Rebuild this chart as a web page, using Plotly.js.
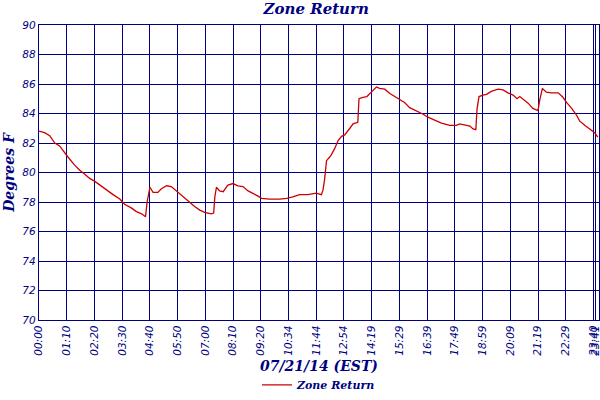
<!DOCTYPE html>
<html>
<head>
<meta charset="utf-8">
<script src="https://cdn.plot.ly/plotly-3.0.1.min.js"></script>
<style>
  html, body { margin: 0; padding: 0; background: #fff; }
  #graph { width: 600px; height: 400px; }
</style>
</head>
<body>
<div id="graph"></div>
<script>
// sample index along the log (one reading per step, with gaps in the clock)
var sampleIdx = [
    0, 14, 27, 40, 52, 65, 73, 90, 103, 115, 128, 141, 158, 170, 187, 204, 216, 233, 246, 259,
    269, 273, 278, 280, 288, 300, 309, 322, 334, 347, 360, 368, 381, 393, 406, 418, 435, 441, 444, 448,
    456, 465, 477, 490, 502, 515, 528, 540, 553, 562, 582, 608, 625, 641, 658, 679, 700, 713, 717, 721,
    726, 734, 738, 747, 755, 764, 772, 785, 793, 805, 808, 818, 828, 839, 852, 860, 873, 886, 898, 911,
    923, 936, 953, 970, 982, 999, 1016, 1037, 1054, 1062, 1079, 1088, 1096, 1103, 1106, 1111, 1121, 1130, 1142, 1159,
    1172, 1184, 1197, 1207, 1214, 1222, 1235, 1247, 1260, 1264, 1271, 1281, 1294, 1311, 1323, 1332, 1345, 1357, 1365, 1378,
    1391, 1403, 1411
];

var zoneReturn = [
    82.8, 82.7, 82.5, 82.0, 81.8, 81.3, 81.05, 80.5, 80.15, 79.9, 79.6, 79.4, 79.05, 78.85, 78.5, 78.2, 77.85, 77.6, 77.35, 77.2,
    77.0, 78.0, 78.9, 79.0, 78.65, 78.65, 78.9, 79.1, 79.05, 78.75, 78.45, 78.25, 78.0, 77.7, 77.45, 77.3, 77.2, 77.25, 78.35, 79.0,
    78.75, 78.7, 79.15, 79.25, 79.1, 79.05, 78.75, 78.6, 78.4, 78.25, 78.2, 78.2, 78.25, 78.35, 78.5, 78.5, 78.6, 78.5, 78.8, 79.5,
    80.8, 81.05, 81.2, 81.65, 82.15, 82.45, 82.55, 83.0, 83.3, 83.4, 85.0, 85.1, 85.15, 85.45, 85.8, 85.7, 85.65, 85.35, 85.15, 84.9,
    84.75, 84.4, 84.2, 83.95, 83.75, 83.55, 83.35, 83.2, 83.2, 83.3, 83.2, 83.15, 82.95, 82.9, 84.3, 85.15, 85.25, 85.3, 85.5, 85.65,
    85.6, 85.4, 85.25, 85.0, 85.15, 85.0, 84.7, 84.35, 84.2, 84.85, 85.7, 85.45, 85.4, 85.4, 85.1, 84.75, 84.35, 83.9, 83.5, 83.2,
    82.95, 82.7, 82.4
];

var tickIdx = [0, 70, 140, 210, 280, 350, 420, 490, 560, 630, 700, 770, 840, 910, 980, 1050, 1120, 1190, 1260, 1330, 1400, 1406];
var tickText = ['00:00', '01:10', '02:20', '03:30', '04:40', '05:50', '07:00', '08:10', '09:20', '10:34', '11:44',
    '12:54', '14:19', '15:29', '16:39', '17:49', '18:59', '20:09', '21:19', '22:29', '23:40', '23:41'];

var navy = '#000080';

function draw() {
    const trace = {
        x: sampleIdx,
        y: zoneReturn,
        type: 'scatter',
        mode: 'lines',
        name: 'Zone Return',
        line: { color: '#cc0000', width: 1.3 }
    };

    const tickFont = { family: 'DejaVu Sans', size: 10.5, color: navy, style: 'italic' };
    const titleFont = { family: 'DejaVu Serif', size: 14, color: navy, style: 'italic', weight: 'bold' };

    const layout = {
        width: 600,
        height: 400,
        margin: { l: 39, r: 1, t: 25, b: 76 },
        paper_bgcolor: '#ffffff',
        plot_bgcolor: '#ffffff',
        title: {
            text: 'Zone Return',
            font: { family: 'DejaVu Serif', size: 15, color: navy, style: 'italic', weight: 'bold' },
            x: 0.527, xanchor: 'center',
            y: 0.978, yanchor: 'middle'
        },
        xaxis: {
            range: [0, 1414],
            tickmode: 'array',
            tickvals: tickIdx,
            ticktext: tickText,
            tickangle: -90,
            tickfont: tickFont,
            ticklabeloverflow: 'allow',
            ticks: '',
            showgrid: true,
            gridcolor: navy,
            gridwidth: 1,
            showline: true,
            linecolor: navy,
            linewidth: 1.3,
            mirror: true,
            zeroline: false,
            automargin: false,
            title: { text: '07/21/14 (EST)', font: titleFont, standoff: 6 }
        },
        yaxis: {
            range: [70, 90],
            tickmode: 'linear',
            tick0: 70,
            dtick: 2,
            tickfont: tickFont,
            ticks: '',
            ticklen: 0,
            showgrid: true,
            gridcolor: navy,
            gridwidth: 1,
            showline: true,
            linecolor: navy,
            linewidth: 1.3,
            mirror: true,
            zeroline: false,
            automargin: false,
            title: { text: 'Degrees F', font: titleFont, standoff: 4 }
        },
        showlegend: true,
        legend: {
            orientation: 'h',
            x: 0.5, xanchor: 'center',
            y: -0.22, yanchor: 'middle',
            font: { family: 'DejaVu Serif', size: 11, color: navy, style: 'italic', weight: 'bold' },
            bgcolor: 'rgba(0,0,0,0)'
        }
    };

    Plotly.newPlot('graph', [trace], layout, { staticPlot: true });
}

window.addEventListener("load", draw, false);
</script>
</body>
</html>
